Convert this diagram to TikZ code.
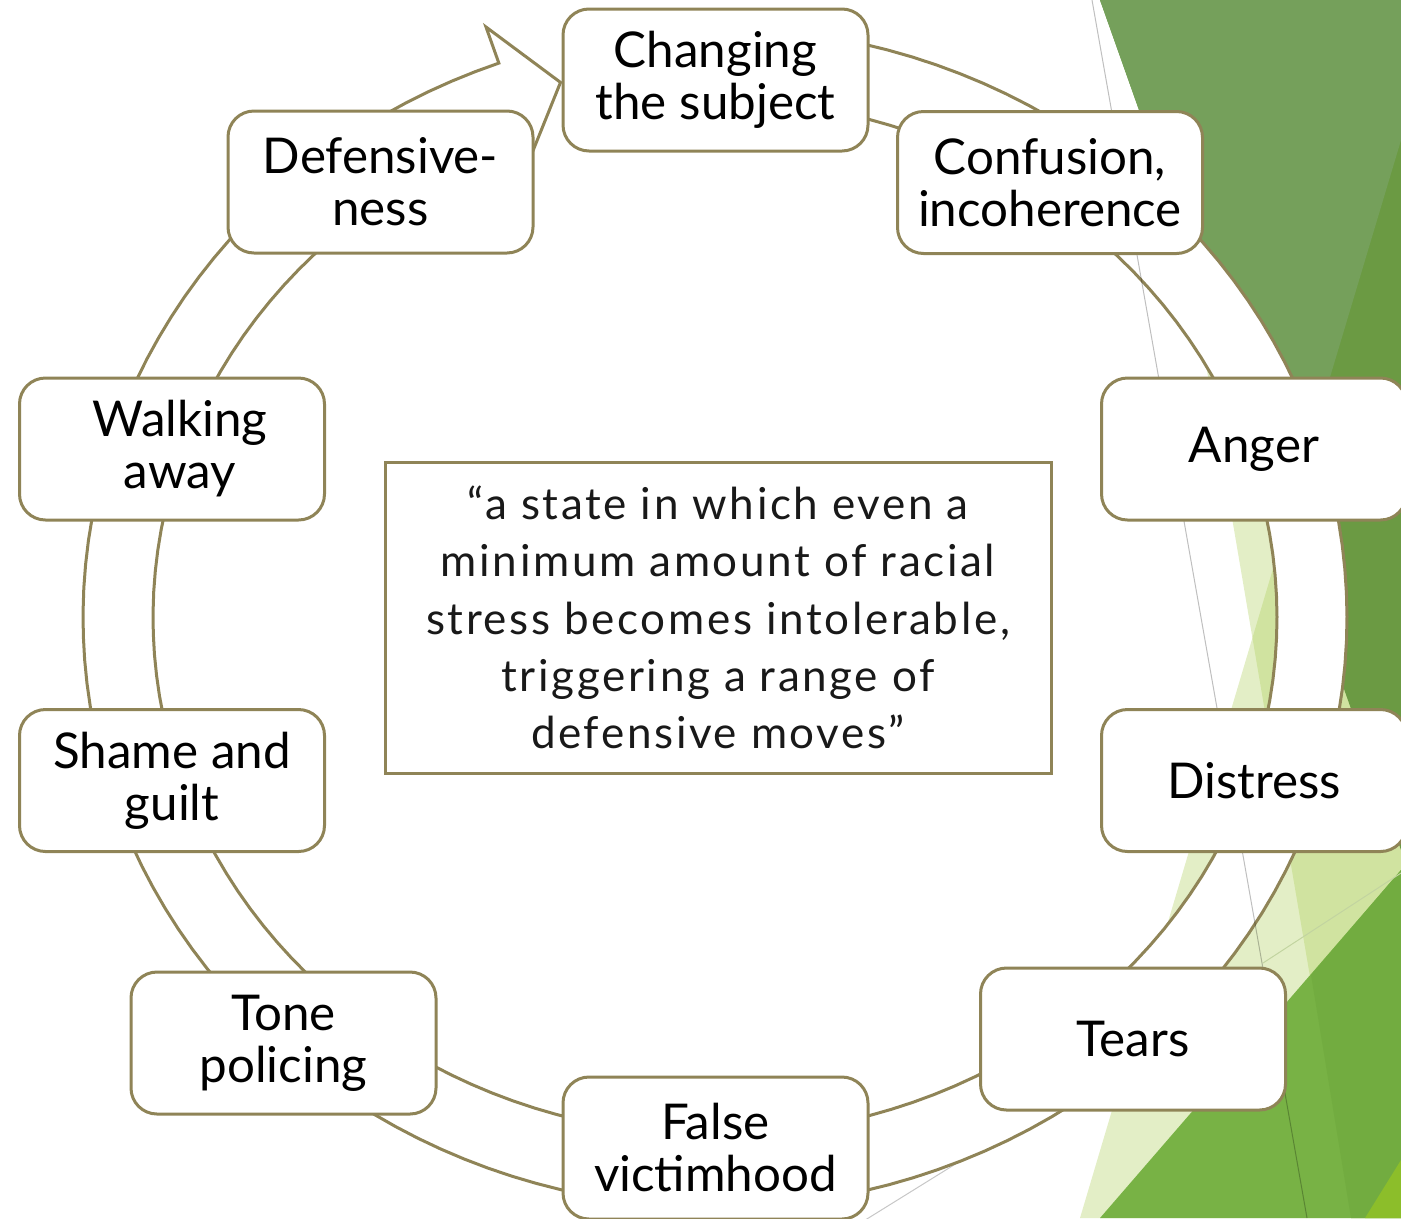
\documentclass[tikz,border=0pt]{standalone}
\usepackage{fontspec}
\setmainfont{Lato}
\newfontfamily\quotefont[LetterSpace=6]{Lato}

\tikzset{every picture/.style={line width=0.75pt}}
\tikzset{
  stagebox/.style={draw={rgb, 255:red, 143; green, 132; blue, 87 }, fill=white, line width=2.25, rounded corners=19.5pt,
    minimum width=228.75pt, minimum height=106.5pt, inner sep=0pt, align=center,
    font=\fontsize{37}{39}\selectfont},
  quotebox/.style={draw={rgb, 255:red, 143; green, 132; blue, 87 }, fill=white, line width=2.25,
    minimum width=499.5pt, minimum height=233.25pt, inner sep=0pt, align=center,
    text={rgb, 255:red, 25; green, 25; blue, 25 }, font=\quotefont\fontsize{33}{43}\selectfont},
  ringline/.style={draw={rgb, 255:red, 143; green, 132; blue, 87 }, line width=2.25, fill=white},
  tri/.style={draw=none, fill={rgb, 255:red, 170; green, 204; blue, 82 }, fill opacity=0.33}
}

\begin{document}
\begin{tikzpicture}[x=0.75pt,y=0.75pt,yscale=-1,xscale=1]
\useasboundingbox (0,0) rectangle (1401,1218);

%Shape: Triangle [pale, two overlapping]
\fill [tri] (1144,0) -- (1351,1218) -- (1401,1218) -- (1401,0) -- cycle ;
\fill [tri] (1442,0) -- (1080,1218) -- (1401,1218) -- cycle ;
%Shape: Triangle [dark green]
\fill [color={rgb, 255:red, 107; green, 154; blue, 67 }] (1100,0) -- (1401,0) -- (1401,850) -- cycle ;
\fill [color={rgb, 255:red, 117; green, 160; blue, 91 }] (1100,0) -- (1443,0) -- (1286,524) -- cycle ;
%Shape: Triangle [bright green]
\fill [color={rgb, 255:red, 120; green, 178; blue, 69 }] (1100,1218) -- (1401,870) -- (1401,1218) -- cycle ;
\fill [color={rgb, 255:red, 114; green, 172; blue, 64 }] (1311,975) -- (1401,870) -- (1401,1218) -- (1351,1218) -- cycle ;
\fill [color={rgb, 255:red, 140; green, 190; blue, 42 }] (1365,1218) -- (1401,1160) -- (1401,1218) -- cycle ;
%Straight Lines
\draw [color={rgb, 255:red, 194; green, 212; blue, 160 }] (1263,963) -- (1401,873) ;
\draw [color=black, draw opacity=0.22] (862,1222) -- (978,1150) ;

%Shape: Circular Arrow
\draw [ringline] plot[domain=265:610, samples=150] ({715+632*cos(\x)},{617.5+590*sin(\x)}) -- (486,27) -- (560.5,82.4) -- (522,178)
  -- plot[domain=610:265, samples=150] ({715+562*cos(\x)},{617.5+518*sin(\x)}) -- cycle ;

%Straight Lines
\draw [color=black, draw opacity=0.25] (1092,0) -- (1307,1218) ;

% Text Node
\node [stagebox] (chg) at (715.5,80) {Changing\\the subject};
\node [stagebox] (conf) at (1050,182.5) {Confusion,\\incoherence};
\node [stagebox] (anger) at (1254,449) {Anger};
\node [stagebox] (distr) at (1254,780.5) {Distress};
\node [stagebox] (tears) at (1133,1039) {Tears};
\node [stagebox] (falsev) at (715.5,1148) {False\\victimhood};
\node [stagebox] (tone) at (283.5,1043) {Tone\\policing};
\node [stagebox] (shame) at (172,780.5) {Shame and\\guilt};
\node [stagebox] (walk) at (172,449) {\hspace*{12pt}Walking\\\hspace*{12pt}away};
\node [stagebox] (def) at (380.5,182) {Defensive-\\ness};

% Text Node
\node [quotebox] (quote) at (718,617.5) {“a state in which even a\\minimum amount of racial\\stress becomes intolerable,\\triggering a range of\\defensive moves”};

\end{tikzpicture}
\end{document}
